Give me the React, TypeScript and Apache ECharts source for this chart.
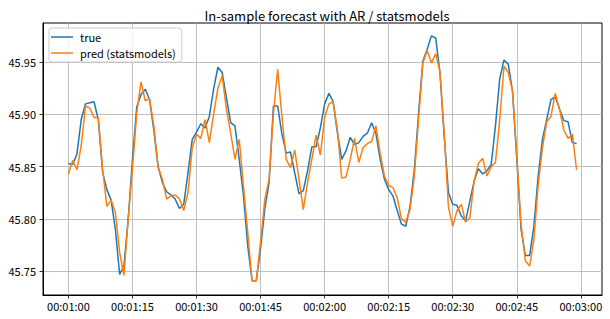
import React, { useEffect, useRef } from "react";
import * as echarts from "echarts";

const FONT = "'Noto Sans CJK JP', 'Noto Sans', sans-serif";

// one sample per second, starting at 00:01:00
const START_SECOND = 60;

const trueValues = [
  45.853, 45.852, 45.862, 45.895, 45.910, 45.911, 45.912, 45.895, 45.845, 45.828,
  45.818, 45.790, 45.747, 45.755, 45.800, 45.857, 45.907, 45.919, 45.924, 45.914,
  45.885, 45.850, 45.835, 45.826, 45.823, 45.819, 45.810, 45.814, 45.844, 45.876,
  45.883, 45.891, 45.887, 45.898, 45.924, 45.945, 45.940, 45.916, 45.892, 45.889,
  45.857, 45.822, 45.774, 45.741, 45.741, 45.772, 45.810, 45.835, 45.908, 45.908,
  45.881, 45.863, 45.864, 45.844, 45.824, 45.827, 45.846, 45.869, 45.869, 45.887,
  45.910, 45.920, 45.912, 45.882, 45.857, 45.865, 45.878, 45.871, 45.873, 45.879,
  45.882, 45.892, 45.882, 45.857, 45.838, 45.828, 45.822, 45.808, 45.795, 45.793,
  45.812, 45.847, 45.901, 45.951, 45.962, 45.975, 45.973, 45.940, 45.879, 45.825,
  45.814, 45.813, 45.803, 45.798, 45.817, 45.836, 45.848, 45.843, 45.846, 45.852,
  45.889, 45.934, 45.952, 45.948, 45.922, 45.857, 45.790, 45.765, 45.765, 45.793,
  45.841, 45.876, 45.895, 45.914, 45.917, 45.905, 45.894, 45.893, 45.873, 45.872,
];

const predValues = [
  45.843, 45.856, 45.847, 45.870, 45.908, 45.906, 45.897, 45.897, 45.848, 45.812,
  45.818, 45.806, 45.768, 45.746, 45.800, 45.848, 45.901, 45.931, 45.913, 45.915,
  45.889, 45.850, 45.838, 45.819, 45.822, 45.823, 45.819, 45.808, 45.825, 45.868,
  45.881, 45.877, 45.895, 45.873, 45.900, 45.925, 45.937, 45.905, 45.882, 45.857,
  45.876, 45.831, 45.787, 45.741, 45.741, 45.778, 45.819, 45.838, 45.900, 45.943,
  45.898, 45.857, 45.849, 45.866, 45.838, 45.809, 45.835, 45.857, 45.880, 45.861,
  45.897, 45.910, 45.912, 45.885, 45.839, 45.840, 45.857, 45.877, 45.854, 45.868,
  45.872, 45.874, 45.889, 45.863, 45.841, 45.832, 45.830, 45.820, 45.800, 45.797,
  45.809, 45.841, 45.895, 45.949, 45.961, 45.949, 45.958, 45.941, 45.882, 45.811,
  45.793, 45.808, 45.814, 45.797, 45.801, 45.836, 45.853, 45.858, 45.841, 45.850,
  45.854, 45.895, 45.946, 45.940, 45.922, 45.860, 45.795, 45.760, 45.755, 45.780,
  45.832, 45.868, 45.893, 45.898, 45.920, 45.905, 45.885, 45.877, 45.881, 45.847,
];

const xTicks = [60, 75, 90, 105, 120, 135, 150, 165, 180];
const yTicks = [45.75, 45.8, 45.85, 45.9, 45.95];

const seriesNames = ["true", "pred (statsmodels)"];
const TITLE = "In-sample forecast with AR / statsmodels";

const pad2 = (n: number) => String(n).padStart(2, "0");
const fmtTime = (s: number) => {
  const total = Math.round(s);
  const h = Math.floor(total / 3600);
  const m = Math.floor((total % 3600) / 60);
  const sec = total % 60;
  return `${pad2(h)}:${pad2(m)}:${pad2(sec)}`;
};

export default function App() {
  const ref = useRef<HTMLDivElement>(null);

  useEffect(() => {
    if (!ref.current) return;
    const chart = echarts.init(ref.current, null, { renderer: "svg" });
    const toPairs = (vals: number[]) => vals.map((v, i) => [START_SECOND + i, v]);

    const axisCommon = {
      axisLine: { show: true, lineStyle: { color: "#000", width: 1 } },
      splitLine: { show: true, lineStyle: { color: "#b0b0b0", width: 0.8 } },
    };

    chart.setOption({
      animation: false,
      textStyle: { fontFamily: FONT },
      grid: {
        left: 43,
        right: 8,
        top: 23,
        bottom: 24,
        show: true,
        borderColor: "#000",
        borderWidth: 1,
        backgroundColor: "transparent",
      },
      title: {
        text: TITLE,
        left: 322,
        top: 4,
        textAlign: "center",
        textStyle: { fontFamily: FONT, fontSize: 13, fontWeight: "normal", color: "#000" },
      },
      legend: {
        orient: "vertical",
        left: 49,
        top: 28,
        padding: [2, 6, 2, 2],
        itemGap: 2,
        itemWidth: 22,
        itemHeight: 1.5,
        icon: "rect",
        borderColor: "#cccccc",
        borderWidth: 1,
        borderRadius: 3,
        backgroundColor: "rgba(255,255,255,0.8)",
        textStyle: { fontFamily: FONT, fontSize: 11, color: "#000", lineHeight: 14, padding: [0, 0, 0, 2] },
        data: seriesNames,
      },
      xAxis: {
        type: "value",
        min: 54.05,
        max: 184.95,
        ...axisCommon,
        axisTick: {
          show: true,
          inside: false,
          length: 3.5,
          customValues: xTicks,
          lineStyle: { color: "#000", width: 0.8 },
        },
        axisLabel: {
          customValues: xTicks,
          formatter: (v: number) => fmtTime(v),
          color: "#000",
          fontSize: 11,
          fontFamily: FONT,
          margin: 5,
        },
      },
      yAxis: {
        type: "value",
        min: 45.7273,
        max: 45.9873,
        ...axisCommon,
        axisTick: {
          show: true,
          inside: false,
          length: 3.5,
          customValues: yTicks,
          lineStyle: { color: "#000", width: 0.8 },
        },
        axisLabel: {
          customValues: yTicks,
          formatter: (v: number) => v.toFixed(2),
          color: "#000",
          fontSize: 11,
          fontFamily: FONT,
          margin: 7,
        },
      },
      series: [
        {
          name: seriesNames[0],
          type: "line",
          data: toPairs(trueValues),
          symbol: "none",
          lineStyle: { color: "#1f77b4", width: 1.5 },
          itemStyle: { color: "#1f77b4" },
          z: 2,
        },
        {
          name: seriesNames[1],
          type: "line",
          data: toPairs(predValues),
          symbol: "none",
          lineStyle: { color: "#ff7f0e", width: 1.5 },
          itemStyle: { color: "#ff7f0e" },
          z: 3,
        },
      ],
    });
    return () => chart.dispose();
  }, []);

  return (
    <div
      ref={ref}
      style={{ position: "fixed", left: 0, top: 0, width: 610, height: 319, background: "#fff" }}
    />
  );
}
